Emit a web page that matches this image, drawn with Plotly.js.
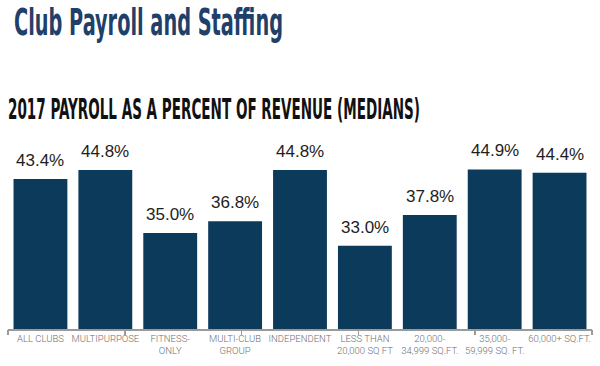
<!DOCTYPE html>
<html>
<head>
<meta charset="utf-8">
<script src="https://cdn.plot.ly/plotly-3.0.1.min.js"></script>
<style>
html,body{margin:0;padding:0;background:#fff;}
#chart{width:600px;height:366px;}
</style>
</head>
<body>
<div id="chart"></div>
<script>
const categories = ["ALL CLUBS", "MULTIPURPOSE", "FITNESS-<br>ONLY", "MULTI-CLUB<br>GROUP", "INDEPENDENT", "LESS THAN<br>20,000 SQ FT", "20,000-<br>34,999 SQ.FT.", "35,000-<br>59,999 SQ. FT.", "60,000+ SQ.FT."];
const payrollPct = [43.4, 44.8, 35.0, 36.8, 44.8, 33.0, 37.8, 44.9, 44.4];
const valueLabels = payrollPct.map(v => v.toFixed(1) + "%");
const tickMarks = [0, 1, 2, 3, 4, 5];
const mainTitle = "Club Payroll and Staffing";
const subTitle = "2017 PAYROLL AS A PERCENT OF REVENUE (MEDIANS)";

const barColor = "#0b3a5b";

const trace = {
  type: "bar",
  x: categories,
  y: payrollPct,
  marker: {color: barColor},
  hoverinfo: "skip"
};

const tickHelper = {
  type: "scatter", mode: "markers",
  x: tickMarks, y: tickMarks.map(() => 20),
  xaxis: "x2", yaxis: "y",
  marker: {opacity: 0, size: 1},
  hoverinfo: "skip"
};

const annotations = categories.map((c, i) => ({
  x: c, y: payrollPct[i], xref: "x", yref: "y",
  text: valueLabels[i], showarrow: false,
  yanchor: "bottom", yshift: 7,
  font: {family: "Liberation Sans, Arial, sans-serif", size: 17, color: "#1e1e1e"}
}));

annotations.push({
  xref: "paper", yref: "paper", x: 0, y: (329 - 110) / 189,
  xanchor: "left", yanchor: "middle", showarrow: false,
  text: "<b>" + subTitle + "</b>",
  font: {family: "Liberation Sans Narrow, DejaVu Sans Condensed, Arial Narrow, sans-serif", size: 21, color: "#111"}
});

const layout = {
  width: 600, height: 366,
  margin: {l: 8, r: 8, t: 140, b: 37},
  paper_bgcolor: "#fff", plot_bgcolor: "#fff",
  showlegend: false,
  bargap: 0.17,
  title: {
    text: "<b>" + mainTitle + "</b>",
    x: 14 / 600, xanchor: "left", xref: "container",
    y: 1 - 22 / 366, yanchor: "middle", yref: "container",
    font: {family: "Liberation Sans Narrow, DejaVu Sans Condensed, Arial Narrow, sans-serif", size: 35, color: "#1f4068"}
  },
  xaxis: {
    type: "category",
    showline: true, linecolor: "#9a9a9a", linewidth: 1.5,
    ticks: "", showgrid: false, zeroline: false,
    tickfont: {family: "Roboto, Liberation Sans, sans-serif", size: 9.5, color: "#707070", weight: 300},
    fixedrange: true
  },
  xaxis2: {
    overlaying: "x", anchor: "y", side: "bottom",
    range: [0, 5], tickvals: tickMarks,
    ticks: "outside", ticklen: 5, tickwidth: 1.5, tickcolor: "#9a9a9a",
    showticklabels: false, showgrid: false, zeroline: false, showline: false,
    fixedrange: true
  },
  yaxis: {
    range: [20, 49.5], visible: false, fixedrange: true
  },
  annotations: annotations
};

function squeeze(el, width, left, vscale) {
  if (!el) return;
  el.setAttribute("textLength", String(width));
  el.setAttribute("lengthAdjust", "spacingAndGlyphs");
  const r = el.getBoundingClientRect();
  const x0 = parseFloat(el.getAttribute("x") || "0");
  el.setAttribute("x", String(x0 + (left - r.left)));
  if (vscale && vscale !== 1) {
    const bb = el.getBBox();
    const cy = bb.y + bb.height / 2;
    el.setAttribute("transform", "translate(0," + cy + ") scale(1," + vscale + ") translate(0," + (-cy) + ")");
  }
}

Plotly.newPlot("chart", [trace, tickHelper], layout, {staticPlot: true, displayModeBar: false}).then(() => {
  squeeze(document.querySelector(".gtitle"), 269, 14, 1.08);
  const groups = document.querySelectorAll(".annotation");
  const g = groups[groups.length - 1];
  if (g) squeeze(g.querySelector(".annotation-text"), 412, 8, 1.35);
});
</script>
</body>
</html>
